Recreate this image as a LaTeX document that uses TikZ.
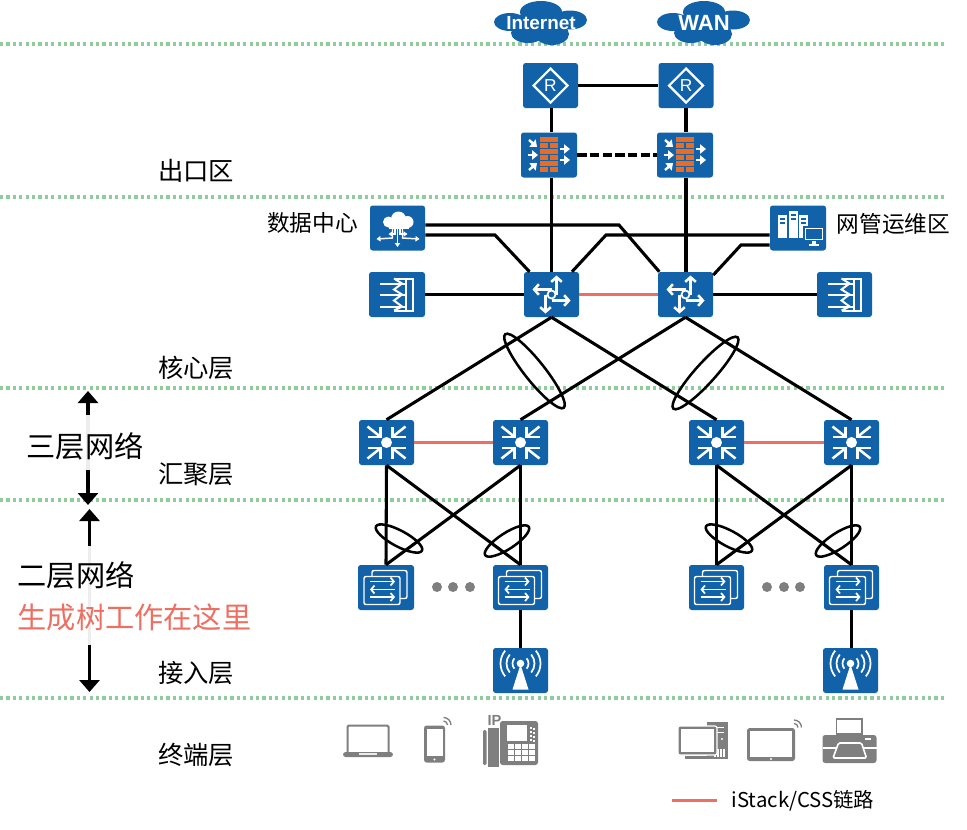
\documentclass[tikz,border=0pt]{standalone}
\usepackage{fontspec}
\setmainfont{Noto Sans CJK SC}
\newfontfamily\arialfont{Liberation Sans}
\usetikzlibrary{arrows.meta}
\definecolor{devblue}{HTML}{1262A9}
\definecolor{linkred}{HTML}{EE6F61}
\definecolor{layergreen}{HTML}{8FCB9D}
\definecolor{termgray}{HTML}{7F7F7F}
\definecolor{brickorange}{HTML}{ED6B21}
\tikzset{
	devbox/.style={fill=devblue,rounded corners=2pt,minimum width=41.25pt,minimum height=33.75pt,inner sep=0pt},
	linkline/.style={draw=black,line width=2.3pt},
	stackline/.style={draw=linkred,line width=2.8pt},
	bundleline/.style={draw=black,line width=1.9pt},
	layerline/.style={draw=layergreen,line width=2.6pt,dash pattern=on 2.4pt off 2.4pt},
	spanarrow/.style={draw=black,line width=2.3pt,{Triangle[width=15pt,length=9pt]}-{Triangle[width=15pt,length=9pt]}},
	veilbox/.style={fill=white,fill opacity=0.93},
	bigtext/.style={inner sep=0.75pt,font=\fontsize{19pt}{20pt}\selectfont},
	sidetext/.style={inner sep=0.75pt,font=\fontsize{17pt}{18pt}\selectfont},
	spantext/.style={inner sep=0.75pt,font=\fontsize{21.9pt}{24pt}\selectfont},
	cloudtext/.style={text=white,inner sep=0pt,font=\arialfont\bfseries\fontsize{14.2pt}{16pt}\selectfont},
	whiteline/.style={draw=white,line width=1.5pt},
	whitearrow/.style={draw=white,line width=1.8pt,-{Triangle[length=4.5pt,width=7pt]}},
	whitebarb/.style={draw=white,line width=1.9pt,-{Straight Barb[length=3.5pt,width=8pt]}},
	thinarrow/.style={draw=white,line width=1.1pt,-{Triangle[length=3pt,width=4pt]}},
	swaparrow/.style={draw=white,line width=1.3pt,-{Straight Barb[length=2.5pt,width=6pt]}},
	%device icons, origin at the middle of the box
	routericon/.pic={
		\draw[whiteline,line width=1.6pt] (0,-17) -- (17,0) -- (0,17) -- (-17,0) -- cycle;
		\node (rtext) [text=white,inner sep=0pt,font=\arialfont\fontsize{13pt}{14pt}\selectfont] at (0,0) {R};
	},
	wallicon/.pic={
		\foreach \y in {-18,-6,6} \fill[brickorange] (-9,\y) rectangle (9,\y+5);
		\foreach \y in {-12,0,12} {
			\fill[brickorange] (-9,\y) rectangle (-1,\y+5);
			\fill[brickorange] (1,\y) rectangle (9,\y+5);
		}
		\draw[whitearrow] (-20,-15) -- (-12,-8);
		\draw[whitearrow] (-21,0) -- (-11,0);
		\draw[whitearrow] (-20,15) -- (-12,8);
		\draw[whitearrow] (11,-6) -- (21,-6);
		\draw[whitearrow] (11,5) -- (21,5);
	},
	coreicon/.pic={
		\draw[whitebarb] (5,0) -- (5,-19);
		\draw[whitebarb] (0,-5) -- (-19,-5);
		\draw[whitebarb] (0,6) -- (19,6);
		\draw[whitebarb] (-6,0) -- (-6,19);
		\filldraw[draw=white,fill=devblue,line width=1.3pt] (0,0) circle (4);
	},
	loadicon/.pic={
		\draw[whiteline] (-3,-16) -- (16,-16) -- (16,16) -- (-3,16);
		\draw[whiteline] (9,-16) -- (9,16);
		\foreach \y in {-11,0,12} \draw[whiteline] (-17,\y) -- (9,\y);
		\draw[whiteline] (-3,-16) -- (5,-11) -- (-3,-5) -- (5,0) -- (-3,6) -- (5,12) -- (-3,16);
	},
	dataicon/.pic={
		\fill[white] (-9,-6) circle (5.5);
		\fill[white] (1,-9) circle (7.5);
		\fill[white] (10,-6) circle (6);
		\fill[white] (-9,-4) rectangle (11,1);
		\draw[thinarrow] (0,1) -- (0,19);
		\draw[thinarrow] (-5,1) -- (-5,10) -- (-21,11);
		\draw[thinarrow] (5,1) -- (5,10) -- (22,11);
		\draw[thinarrow] (-2.5,1) -- (-2.5,6) -- (-9,6);
		\draw[thinarrow] (2.5,1) -- (2.5,6) -- (10,6);
	},
	manageicon/.pic={
		\foreach \x/\top in {-20/-13,-9/-17,1/-13} {
			\fill[white] (\x,\top) rectangle (\x+8.5,10);
			\fill[devblue] (\x+1.5,\top+3) rectangle (\x+7,\top+5);
			\fill[devblue] (\x+1.5,\top+7) rectangle (\x+7,\top+9);
		}
		\filldraw[draw=devblue,fill=white,line width=1pt] (6,-1) rectangle (26,13);
		\fill[devblue] (8,1) rectangle (24,11);
		\fill[white] (14,13) rectangle (18,16);
		\fill[white] (11,16) rectangle (21,17.5);
	},
	aggicon/.pic={
		\fill[white] (0,0) circle (5.5);
		\foreach \sx/\sy in {1/1,1/-1,-1/1,-1/-1} {
			\draw[whiteline,line width=1.9pt,line join=miter] (\sx*6,\sy*16) -- (\sx*6,\sy*5.5) -- (\sx*19,\sy*5.5);
			\draw[whiteline,line width=1.9pt] (\sx*7,\sy*6.5) -- (\sx*19,\sy*16);
		}
	},
	accessicon/.pic={
		\draw[whiteline,line width=1.1pt,rounded corners=1.5pt] (-14,-17) rectangle (21,11);
		\filldraw[draw=white,fill=devblue,line width=1.1pt,rounded corners=1.5pt] (-22,-11) rectangle (14,17);
		\draw[swaparrow] (-16,-6) -- (9,-6);
		\draw[swaparrow] (9,2) -- (-16,2);
		\draw[swaparrow] (-16,9.5) -- (9,9.5);
	},
	apicon/.pic={
		\fill[white] (0,-6) -- (8,19) -- (-8,19) -- cycle;
		\fill[white] (0,-7) circle (3.8);
		\foreach \r in {8,14,20} {
			\draw[whiteline,line width=1.3pt] (0,-7) ++(40:\r) arc (40:-40:\r);
			\draw[whiteline,line width=1.3pt] (0,-7) ++(140:\r) arc (140:220:\r);
		}
	},
	%terminal icons
	wavemark/.pic={
		\draw[termgray,line width=1pt] (4,0) arc (0:-90:4);
		\draw[termgray,line width=1pt] (7.5,0) arc (0:-90:7.5);
	},
	laptopicon/.pic={
		\draw[termgray,line width=1.5pt,rounded corners=1pt] (-20.5,11) -- (-20.5,-15.5) -- (20.5,-15.5) -- (20.5,11);
		\fill[termgray,rounded corners=2pt] (-25,11) rectangle (25,16);
		\fill[white!85!termgray] (-9,11.5) rectangle (9,14);
	},
	phoneicon/.pic={
		\fill[termgray,rounded corners=2pt] (-10.5,-18.5) rectangle (10.5,18.5);
		\fill[white] (-8,-15) rectangle (8,12);
		\fill[white] (0,15.5) circle (1.2);
		\pic at (9,-19) {wavemark};
	},
	deskphoneicon/.pic={
		\node (iptext) [text=termgray,inner sep=0pt,font=\arialfont\bfseries\fontsize{11pt}{12pt}\selectfont] at (-15.5,-21.5) {IP};
		\fill[termgray] (-22,-14) rectangle (-11,25);
		\fill[termgray,rounded corners=1pt] (-27,-12) rectangle (-23.5,23);
		\fill[termgray,rounded corners=2pt] (-10,-21) rectangle (28,23);
		\fill[white] (-3,-17) rectangle (17,-1);
		\foreach \y in {-15,-11,-7,-3} {
			\fill[white] (20,\y) rectangle (22,\y+1.8);
			\fill[white] (23,\y+1) rectangle (25,\y+2.8);
		}
		\foreach \x in {-2,5,12,19} \foreach \y in {2,8,14} \fill[white] (\x,\y) rectangle (\x+5.5,\y+4.5);
	},
	desktopicon/.pic={
		\fill[termgray] (4,-19) rectangle (25,18);
		\fill[white] (9,-14) rectangle (21,-13);
		\fill[white] (9,-9) rectangle (21,-8);
		\fill[white] (19,-2) circle (1.2);
		\foreach \x in {12,15,18,21} \draw[white,line width=0.8pt] (\x,8) -- (\x,16);
		\filldraw[draw=white,fill=termgray,line width=0.8pt,rounded corners=1.5pt] (-25,-15) rectangle (14,14);
		\fill[white] (-22.5,-12.5) rectangle (11,11);
		\fill[termgray] (-18,14.5) rectangle (4,18);
	},
	tableticon/.pic={
		\fill[termgray,rounded corners=2pt] (-24,-16.5) rectangle (24,16.5);
		\fill[white] (-21,-13.5) rectangle (21,12.5);
		\fill[white] (0,14.5) circle (1.2);
		\pic at (23,-17) {wavemark};
	},
	printericon/.pic={
		\draw[termgray,fill=white,line width=1.3pt] (-13,-22) rectangle (12.5,-7);
		\fill[termgray,rounded corners=2pt] (-27,-6) rectangle (27,22);
		\draw[white,line width=1pt] (-27,7) -- (27,7);
		\filldraw[draw=white,fill=termgray,line width=1.2pt,rounded corners=1pt] (-11,2) -- (12,2) -- (17,17) -- (-16.5,17) -- cycle;
		\fill[white] (15,-3) rectangle (21,-1);
	},
	bluecloud/.pic={
		\fill[devblue] (-31,-1) ellipse (16 and 9);
		\fill[devblue] (29,-3) ellipse (17 and 9.5);
		\fill[devblue] (0,-11) ellipse (21 and 11);
		\fill[devblue] (-13,10) ellipse (17 and 10);
		\fill[devblue] (11,11) ellipse (17 and 11);
		\fill[devblue] (-25,-8) rectangle (25,6);
	}
}
\begin{document}
\begin{tikzpicture}[x=0.75pt,y=0.75pt,yscale=-1,xscale=1,every pic/.style={yscale=-1}]
	\useasboundingbox (0,0) rectangle (967,829);
	
	%Layer lines
	\foreach \y in {44,197,388,500,698} \draw[layerline] (0,\y) -- (945,\y);
	
	%Span arrows, veiled behind their texts
	\coordinate (spantopA) at (88,391);
	\coordinate (spanendA) at (88,505);
	\coordinate (spantopB) at (89.5,509);
	\coordinate (spanendB) at (89.5,692);
	\draw[spanarrow] (spantopA) -- (spanendA);
	\draw[spanarrow] (spantopB) -- (spanendB);
	\fill[veilbox] (30,415) rectangle (145,470);
	\fill[veilbox] (20,546) rectangle (250,645);
	
	%Clouds
	\pic at (541,23) {bluecloud};
	\pic at (704,23) {bluecloud};
	\node (internet) at (541,23) [cloudtext] {Internet};
	\node (wan) at (704,23) [cloudtext,font=\arialfont\bfseries\fontsize{16.5pt}{18pt}\selectfont] {WAN};
	
	%Devices
	\node (r1) at (550.5,85.5) [devbox] {};
	\node (r2) at (686,85.5) [devbox] {};
	\node (fw1) at (549,155) [devbox,minimum width=42pt] {};
	\node (fw2) at (685,155) [devbox,minimum width=42pt] {};
	\node (dc) at (397.5,228) [devbox] {};
	\node (nm) at (798,228) [devbox,minimum width=42pt] {};
	\node (lb1) at (397,294.5) [devbox,minimum width=42pt] {};
	\node (lb2) at (844.5,294.5) [devbox] {};
	\node (core1) at (551.5,294.5) [devbox] {};
	\node (core2) at (685.5,294.5) [devbox] {};
	\node (agg1) at (386.5,442.5) [devbox] {};
	\node (agg2) at (520.5,442.5) [devbox] {};
	\node (agg3) at (716.5,442.5) [devbox] {};
	\node (agg4) at (851.5,442.5) [devbox] {};
	\node (acc1) at (386,587.5) [devbox,minimum width=42pt] {};
	\node (acc2) at (520.5,587.5) [devbox] {};
	\node (acc3) at (716.5,587.5) [devbox] {};
	\node (acc4) at (851.5,587.5) [devbox] {};
	\node (ap1) at (520.5,670.5) [devbox] {};
	\node (ap2) at (850.5,670.5) [devbox] {};
	
	%Device icons
	\pic at (r1) {routericon};
	\pic at (r2) {routericon};
	\pic at (fw1) {wallicon};
	\pic at (fw2) {wallicon};
	\pic at (dc) {dataicon};
	\pic at (nm) {manageicon};
	\pic at (lb1) {loadicon};
	\pic at (lb2) {loadicon};
	\pic at (core1) {coreicon};
	\pic at (core2) {coreicon};
	\foreach \n in {agg1,agg2,agg3,agg4} \pic at (\n) {aggicon};
	\foreach \n in {acc1,acc2,acc3,acc4} \pic at (\n) {accessicon};
	\pic at (ap1) {apicon};
	\pic at (ap2) {apicon};
	
	%Straight Lines
	\draw[linkline] (r1.east) -- (r2.west);
	\draw[linkline] (r1.south -| core1) -- (fw1.north -| core1);
	\draw[linkline] (r2.south) -- (fw2.north -| r2);
	\draw[linkline,line width=2.7pt,dash pattern=on 7pt off 2.5pt] (fw1.east) -- (fw2.west);
	\draw[linkline] (fw1.south -| core1) -- (core1.north);
	\draw[linkline] (fw2.south -| r2) -- (core2.north -| r2);
	\draw[linkline] (lb1.east) -- (core1.west);
	\draw[linkline] (core2.east) -- (lb2.west);
	
	%Bent lines
	\coordinate (dcup) at (619,225);
	\coordinate (dcdown) at (495,235);
	\coordinate (nmup) at (606,235);
	\coordinate (nmdown) at (741,245);
	\draw[linkline] (dc.east |- dcup) -- (dcup) -- (core2.139);
	\draw[linkline] (dc.east |- dcdown) -- (dcdown) -- (core1.134);
	\draw[linkline] (nm.west |- nmup) -- (nmup) -- (core1.48);
	\draw[linkline] (nm.west |- nmdown) -- (nmdown) -- (core2.35);
	
	%Stack links
	\draw[stackline] (core1.east) -- (core2.west);
	\draw[stackline] (agg1.east) -- (agg2.west);
	\draw[stackline] (agg3.east) -- (agg4.west);
	
	%Core to aggregation
	\draw[linkline] (core1.south) -- (agg1.north);
	\draw[linkline] (core1.south) -- (agg3.north);
	\draw[linkline] (core2.south) -- (agg2.north);
	\draw[linkline] (core2.south) -- (agg4.north);
	
	%Aggregation to access
	\foreach \a/\b in {agg1/acc1,agg1/acc2,agg2/acc1,agg2/acc2,agg3/acc3,agg3/acc4,agg4/acc3,agg4/acc4}
		\draw[linkline] (\a.south) -- (\b.north);
	\draw[linkline] (acc2.south) -- (ap1.north);
	\draw[linkline] (acc4.south) -- (acc4.south |- ap2.north);
	
	%Bundles
	\draw[bundleline,rotate around={51.5:(534.5,371)}] (534.5,371) ellipse (47 and 10);
	\draw[bundleline,rotate around={-48:(705.5,373)}] (705.5,373) ellipse (48 and 10);
	\foreach \cx/\cy/\a in {399/538.5/28,507/541/-33,729/538.5/28,838/541/-33}
		\draw[bundleline,rotate around={\a:(\cx,\cy)}] (\cx,\cy) ellipse (26 and 8);
	
	%More dots
	\foreach \x in {437,453,470,767,784,800} \fill[termgray] (\x,587) circle (5);
	
	%Terminals
	\pic at (368,741) {laptopicon};
	\pic at (434.5,744) {phoneicon};
	\pic at (510,742) {deskphoneicon};
	\pic at (703,741) {desktopicon};
	\pic at (771,744.5) {tableticon};
	\pic at (849.5,741) {printericon};
	
	% Text Node
	\node (exitzone) at (196,171) [bigtext] {出口区};
	\node (corelayer) at (196,368) [bigtext] {核心层};
	\node (agglayer) at (196,474) [bigtext] {汇聚层};
	\node (acclayer) at (196,673) [bigtext] {接入层};
	\node (termlayer) at (196,755) [bigtext] {终端层};
	\node (dctext) at (312.5,223) [sidetext] {数据中心};
	\node (nmtext) at (893.5,224) [sidetext] {网管运维区};
	\node (threelayer) at (85,446) [spantext] {三层网络};
	\node (twolayer) at (76,575) [spantext] {二层网络};
	\node (stptext) at (134.5,617) [spantext,text=linkred] {生成树工作在这里};
	
	%Legend
	\coordinate (keyleft) at (672,800.5);
	\coordinate (keyright) at (717,800.5);
	\draw[stackline] (keyleft) -- (keyright);
	\node (keytext) at (803,801) [sidetext,font=\fontsize{15.3pt}{18pt}\selectfont] {iStack/CSS链路};
\end{tikzpicture}
\end{document}
